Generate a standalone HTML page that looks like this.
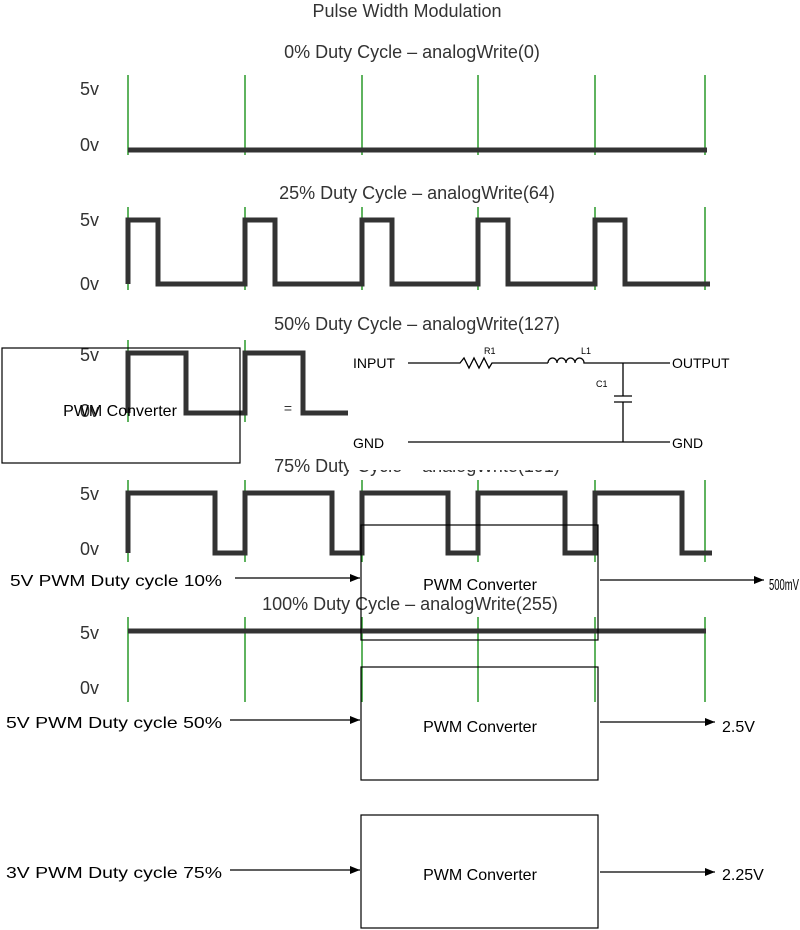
<!DOCTYPE html>
<html><head><style>
body{margin:0;background:#fff}
svg{display:block}
text{font-family:"Liberation Sans",sans-serif}
</style></head><body>
<svg width="800" height="930" viewBox="0 0 800 930" xmlns="http://www.w3.org/2000/svg">
<defs><marker id="a" markerWidth="10" markerHeight="8" refX="10" refY="4" orient="auto" markerUnits="userSpaceOnUse"><path d="M0,0 L10,4 L0,8z" fill="#000"/></marker></defs>
<g font-size="18" fill="#333" text-anchor="middle">
<text x="407" y="17">Pulse Width Modulation</text>
<text x="412" y="58">0% Duty Cycle – analogWrite(0)</text>
<text x="417" y="199">25% Duty Cycle – analogWrite(64)</text>
<text x="417" y="330">50% Duty Cycle – analogWrite(127)</text>
<text x="417" y="472">75% Duty Cycle – analogWrite(191)</text>
<text x="410" y="610">100% Duty Cycle – analogWrite(255)</text>
</g>
<g font-size="18" fill="#333">
<text x="80" y="95">5v</text><text x="80" y="151">0v</text>
<text x="80" y="226">5v</text><text x="80" y="290">0v</text>
<text x="80" y="361">5v</text><text x="80" y="417">0v</text>
<text x="80" y="500">5v</text><text x="80" y="555">0v</text>
<text x="80" y="639">5v</text><text x="80" y="694">0v</text>
</g>
<g stroke="#2a9a2a" stroke-width="1.5">
<path d="M128 75V155M245 75V155M362 75V155M478 75V155M595 75V155M705 75V155"/>
<path d="M128 207V290M245 207V290M362 207V290M478 207V290M595 207V290M705 207V290"/>
<path d="M128 340V422M245 340V422"/>
<path d="M128 480V562M245 480V562M362 480V562M478 480V562M595 480V562M705 480V562"/>
<path d="M128 617V702M245 617V702M362 617V702M478 617V702M595 617V702M705 617V702"/>
</g>
<g stroke="#333" stroke-width="5" fill="none">
<path d="M128 150H707"/>
<path d="M128 284V220H158V284H245V220H275V284H362V220H392V284H478V220H508V284H595V220H625V284H710"/>
<path d="M128 413V353H186V413H245V353H303V413H350"/>
<path d="M128 553V493H215V553H245V493H332V553H362V493H448V553H478V493H565V553H595V493H682V553H712"/>
<path d="M128 631H706"/>
</g>
<rect x="348" y="336" width="412" height="134" fill="#fff"/>
<g font-size="14" fill="#000">
<text x="353" y="368">INPUT</text><text x="672" y="368">OUTPUT</text>
<text x="353" y="448">GND</text><text x="672" y="448">GND</text>
</g>
<g font-size="9" fill="#000"><text x="484" y="354">R1</text><text x="581" y="354">L1</text><text x="596" y="387">C1</text></g>
<g stroke="#000" stroke-width="1.3" fill="none">
<path d="M408 363H460L464 358L469 368L474 358L479 368L484 358L489 368L492 363H548"/>
<path d="M548 363a4.5 5 0 0 1 9 0a4.5 5 0 0 1 9 0a4.5 5 0 0 1 9 0a4.5 5 0 0 1 9 0H670"/>
<path d="M623 363V396M614 396H632M614 402H632M623 402V442M408 442H670"/>
</g>
<rect x="2" y="348" width="238" height="115" fill="none" stroke="#000" stroke-width="1.2"/>
<text x="120" y="416" font-size="16" text-anchor="middle" fill="#000">PWM Converter</text>
<text x="288" y="413" font-size="14" text-anchor="middle" fill="#333">=</text>
<g fill="none" stroke="#000" stroke-width="1.2">
<rect x="361" y="525" width="237" height="115"/>
<rect x="361" y="667" width="237" height="113"/>
<rect x="361" y="815" width="237" height="113"/>
<path d="M235 578H360" marker-end="url(#a)"/>
<path d="M600 580H764" marker-end="url(#a)"/>
<path d="M230 720H360" marker-end="url(#a)"/>
<path d="M600 722H715" marker-end="url(#a)"/>
<path d="M230 870H360" marker-end="url(#a)"/>
<path d="M600 872H715" marker-end="url(#a)"/>
</g>
<g font-size="16" fill="#000">
<text x="480" y="590" text-anchor="middle">PWM Converter</text>
<text x="480" y="732" text-anchor="middle">PWM Converter</text>
<text x="480" y="880" text-anchor="middle">PWM Converter</text>
<text x="10" y="586" textLength="212" lengthAdjust="spacingAndGlyphs">5V PWM Duty cycle 10%</text>
<text x="6" y="728" textLength="216" lengthAdjust="spacingAndGlyphs">5V PWM Duty cycle 50%</text>
<text x="6" y="878" textLength="216" lengthAdjust="spacingAndGlyphs">3V PWM Duty cycle 75%</text>
<text x="769" y="590" textLength="30" lengthAdjust="spacingAndGlyphs">500mV</text>
<text x="722" y="732">2.5V</text>
<text x="722" y="880">2.25V</text>
</g>
</svg>
</body></html>
